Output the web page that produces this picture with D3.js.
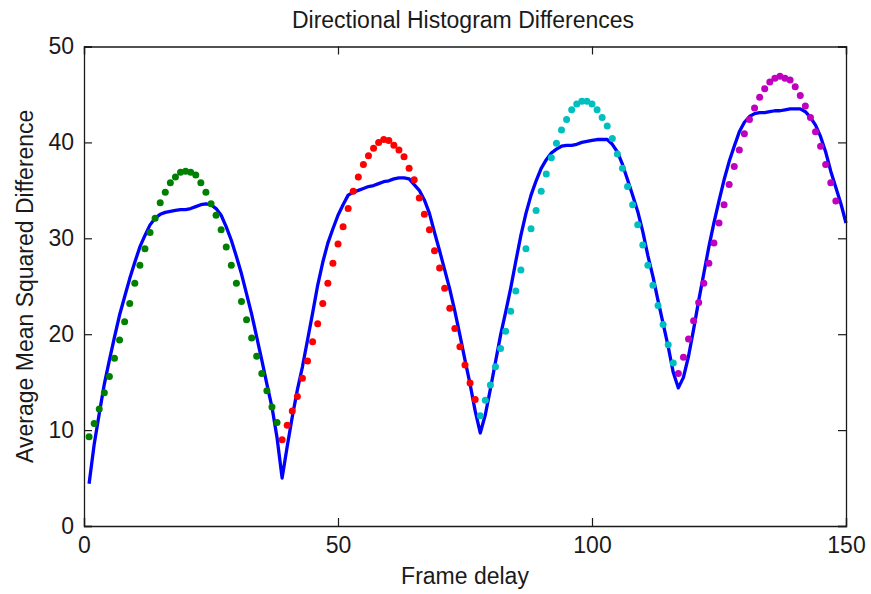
<script src="https://d3js.org/d3.v7.min.js"></script>

<style>
  body { margin: 0; background: #ffffff; }
  text { font-family: "Liberation Sans", Arial, Helvetica, sans-serif; fill: #1a1a1a; }
</style>

<body>
<svg id="frame"></svg>
</body>

<script>
  // blue curve, one value per frame delay 1..150
  var blueStart = 1;
  var blueValues = [
    4.4, 8.5, 11.7, 14.8, 17.3, 19.7, 22.0, 23.9, 25.8, 27.5,
    29.1, 30.3, 31.4, 32.1, 32.5, 32.7, 32.8, 32.9, 33.0, 33.0,
    33.1, 33.3, 33.5, 33.6, 33.5, 33.1, 32.4, 31.2, 29.8, 28.1,
    26.3, 24.2, 22.1, 19.7, 17.3, 14.8, 12.4, 9.2, 5.0, 8.3,
    11.4, 14.2, 16.6, 19.4, 22.2, 25.1, 27.5, 29.5, 31.0, 32.4,
    33.5, 34.5, 34.8, 35.0, 35.2, 35.4, 35.5, 35.7, 35.9, 36.0,
    36.2, 36.3, 36.3, 36.2, 35.6, 35.0, 34.0, 32.6, 30.6, 28.7,
    26.7, 24.7, 22.4, 19.9, 17.3, 14.8, 12.0, 9.7, 11.6, 14.3,
    17.1, 19.9, 22.3, 24.8, 27.6, 30.3, 32.6, 34.5, 36.0, 37.3,
    38.2, 38.9, 39.3, 39.6, 39.7, 39.7, 39.8, 40.0, 40.1, 40.2,
    40.3, 40.3, 40.3, 39.8, 39.0, 37.7, 36.1, 34.5, 32.8, 30.7,
    28.2, 26.0, 23.5, 21.1, 18.7, 16.0, 14.4, 15.5, 17.7, 20.5,
    23.5, 26.3, 29.1, 31.6, 33.9, 36.1, 38.0, 39.6, 41.1, 42.1,
    42.7, 43.0, 43.1, 43.1, 43.2, 43.3, 43.3, 43.4, 43.5, 43.5,
    43.5, 43.2, 42.6, 41.8, 40.6, 39.0, 37.0, 35.3, 33.6, 31.6
  ];

  // dotted segments, one value per frame delay
  var greenStart = 1;
  var greenValues = [
    9.3, 10.7, 12.2, 13.9, 15.6, 17.5, 19.4, 21.3, 23.2, 25.3,
    27.2, 28.9, 30.6, 32.1, 33.7, 34.8, 35.8, 36.4, 36.9, 37.0,
    36.9, 36.6, 35.8, 34.8, 33.6, 32.4, 30.9, 29.1, 27.2, 25.3,
    23.4, 21.5, 19.6, 17.7, 15.9, 14.1, 12.4, 10.8
  ];
  var redStart = 39;
  var redValues = [
    9.0, 10.5, 12.0, 13.5, 15.4, 17.2, 19.2, 21.1, 23.2, 25.3,
    27.4, 29.4, 31.2, 33.1, 34.9, 36.4, 37.7, 38.6, 39.4, 40.0,
    40.3, 40.2, 39.7, 39.2, 38.5, 37.3, 36.1, 34.2, 32.5, 30.9,
    28.7, 26.9, 24.8, 22.7, 20.6, 18.7, 16.8, 14.9, 13.2
  ];
  var cyanStart = 78;
  var cyanValues = [
    11.5, 13.1, 14.7, 16.6, 18.5, 20.3, 22.4, 24.5, 26.7, 28.9,
    31.0, 32.9, 34.9, 36.7, 38.4, 39.9, 41.3, 42.4, 43.4, 44.0,
    44.3, 44.3, 44.0, 43.4, 42.6, 41.7, 40.4, 38.8, 37.3, 35.4,
    33.5, 31.4, 29.3, 27.2, 25.1, 23.0, 21.0, 18.9, 17.0
  ];
  var magentaStart = 117;
  var magentaValues = [
    15.9, 17.6, 19.5, 21.4, 23.3, 25.3, 27.4, 29.5, 31.6, 33.5,
    35.6, 37.5, 39.2, 40.9, 42.4, 43.6, 44.7, 45.6, 46.3, 46.7,
    46.9, 46.7, 46.5, 45.8, 44.9, 43.8, 42.6, 41.1, 39.6, 37.7,
    35.8, 33.9
  ];

  var xTicks = [0, 50, 100, 150];
  var yTicks = [0, 10, 20, 30, 40, 50];

  var titleText = "Directional Histogram Differences";
  var xLabel = "Frame delay";
  var yLabel = "Average Mean Squared Difference";

  var width = 871;
  var height = 594;
  var margin = {top: 46.5, right: 25, bottom: 68, left: 84};
  var chartWidth = width - margin.left - margin.right;
  var chartHeight = height - margin.top - margin.bottom;

  var svg = d3.select('#frame')
    .attr('width', width)
    .attr('height', height);

  svg.append('rect')
    .attr('width', width)
    .attr('height', height)
    .attr('fill', '#ffffff');

  var x = d3.scaleLinear().domain([0, 150]).range([0, chartWidth]);
  var y = d3.scaleLinear().domain([0, 50]).range([chartHeight, 0]);

  var g = svg.append('g')
    .attr('transform', 'translate(' + margin.left + ',' + margin.top + ')');

  // turn a start frame + values into points
  function toPoints(start, values) {
    return values.map(function(v, i) { return [start + i, v]; });
  }

  // blue curve
  var line = d3.line()
    .x(function(d) { return x(d[0]); })
    .y(function(d) { return y(d[1]); });

  g.append('path')
    .datum(toPoints(blueStart, blueValues))
    .attr('d', line)
    .attr('fill', 'none')
    .attr('stroke', '#0000ff')
    .attr('stroke-width', 3.3)
    .attr('stroke-linejoin', 'round');

  // dots on top
  var segments = [
    {start: greenStart, values: greenValues, color: '#008000'},
    {start: redStart, values: redValues, color: '#ff0000'},
    {start: cyanStart, values: cyanValues, color: '#00bfbf'},
    {start: magentaStart, values: magentaValues, color: '#bf00bf'}
  ];

  segments.forEach(function(s) {
    g.append('g')
      .selectAll('circle')
      .data(toPoints(s.start, s.values))
      .enter().append('circle')
      .attr('cx', function(d) { return x(d[0]); })
      .attr('cy', function(d) { return y(d[1]); })
      .attr('r', 3.5)
      .attr('fill', s.color);
  });

  // axes: ticks inside, box all round
  var tickLen = 8;
  var xAxisBottom = d3.axisBottom(x).tickValues(xTicks).tickSize(-tickLen).tickPadding(11);
  var xAxisTop = d3.axisTop(x).tickValues(xTicks).tickSize(-tickLen).tickFormat('');
  var yAxisLeft = d3.axisLeft(y).tickValues(yTicks).tickSize(-tickLen).tickPadding(10);
  var yAxisRight = d3.axisRight(y).tickValues(yTicks).tickSize(-tickLen).tickFormat('');

  var axes = [
    g.append('g').attr('transform', 'translate(0,' + chartHeight + ')').call(xAxisBottom),
    g.append('g').call(xAxisTop),
    g.append('g').call(yAxisLeft),
    g.append('g').attr('transform', 'translate(' + chartWidth + ',0)').call(yAxisRight)
  ];

  axes.forEach(function(a) {
    a.select('.domain').attr('stroke', '#1a1a1a').attr('stroke-width', 1.3);
    a.selectAll('.tick line').attr('stroke', '#1a1a1a').attr('stroke-width', 1.2);
    a.selectAll('.tick text')
      .attr('font-family', '"Liberation Sans", Arial, sans-serif')
      .attr('font-size', 23)
      .attr('fill', '#1a1a1a');
  });

  svg.append('text')
    .attr('x', 463)
    .attr('y', 28)
    .attr('text-anchor', 'middle')
    .attr('font-size', 23)
    .text(titleText);

  svg.append('text')
    .attr('x', margin.left + chartWidth / 2)
    .attr('y', 584)
    .attr('text-anchor', 'middle')
    .attr('font-size', 23)
    .text(xLabel);

  svg.append('text')
    .attr('transform', 'translate(33,' + (margin.top + chartHeight / 2) + ') rotate(-90)')
    .attr('text-anchor', 'middle')
    .attr('font-size', 23)
    .text(yLabel);
</script>
